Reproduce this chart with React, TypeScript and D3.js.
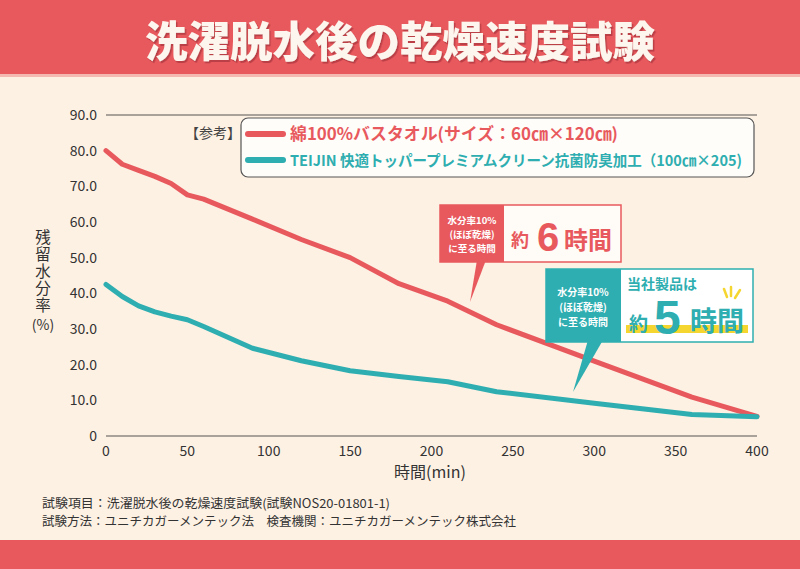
import React from "react";
import * as d3 from "d3";

const times = [0, 10, 20, 30, 40, 50, 60, 90, 120, 150, 180, 210, 240, 300, 360, 400];
const cottonValues = [80.0, 76.2, 74.5, 72.8, 70.8, 67.6, 66.4, 60.8, 55.1, 50.0, 42.7, 37.8, 31.2, 21.0, 10.9, 5.5];
const teijinValues = [42.5, 39.1, 36.5, 34.8, 33.6, 32.6, 30.7, 24.6, 21.1, 18.3, 16.7, 15.2, 12.4, 9.2, 6.0, 5.4];
const yTicks = [0, 10, 20, 30, 40, 50, 60, 70, 80, 90];
const xTicks = [0, 50, 100, 150, 200, 250, 300, 350, 400];
const seriesNames = [
  "綿100%バスタオル(サイズ：60㎝×120㎝)",
  "TEIJIN 快適トッパープレミアムクリーン抗菌防臭加工（100㎝×205)",
];

const RED = "#e8595e";
const TEAL = "#2eaeb0";
const BG = "#fdf1e3";
const FONT = "'Noto Sans CJK JP', 'Noto Sans', sans-serif";
const DIGIT_FONT = "'Liberation Sans', Arial, sans-serif";

export default function App() {
  const x = d3.scaleLinear().domain([0, 400]).range([106, 757]);
  const y = d3.scaleLinear().domain([0, 90]).range([436, 115]);
  const line = d3
    .line<[number, number]>()
    .x((d) => x(d[0]))
    .y((d) => y(d[1]))
    .curve(d3.curveLinear);
  const cotton = times.map((t, i) => [t, cottonValues[i]] as [number, number]);
  const teijin = times.map((t, i) => [t, teijinValues[i]] as [number, number]);

  return (
    <svg
      width={800}
      height={569}
      viewBox="0 0 800 569"
      style={{ position: "fixed", left: 0, top: 0, display: "block" }}
      fontFamily={FONT}
    >
      <defs>
        <filter id="tshadow" x="-10%" y="-10%" width="120%" height="130%">
          <feDropShadow dx="1.5" dy="2" stdDeviation="0.6" floodColor="#a8343a" floodOpacity="0.7" />
        </filter>
      </defs>
      <rect x={0} y={0} width={800} height={569} fill={BG} />
      {/* top banner */}
      <rect x={0} y={0} width={800} height={75} fill={RED} />
      <rect x={0} y={74} width={800} height={3} fill="#f4b9b0" />
      <text
        x={400}
        y={57}
        textAnchor="middle"
        fontSize={42.5}
        fontWeight={900}
        fill="#fdf6ee"
        filter="url(#tshadow)"
      >
        洗濯脱水後の乾燥速度試験
      </text>
      {/* bottom band */}
      <rect x={0} y={540} width={800} height={29} fill={RED} />

      {/* axes lines */}
      <line x1={x(0)} x2={x(400)} y1={y(90)} y2={y(90)} stroke="#555" strokeWidth={1.2} />
      <line x1={x(0)} x2={x(400)} y1={y(0)} y2={y(0)} stroke="#555" strokeWidth={1.2} />

      {yTicks.map((t) => (
        <text
          key={"y" + t}
          x={97}
          y={y(t)}
          dy="0.35em"
          textAnchor="end"
          fontSize={14}
          fill="#333"
        >
          {t === 0 ? "0" : t.toFixed(1)}
        </text>
      ))}
      {xTicks.map((t) => (
        <text
          key={"x" + t}
          x={x(t)}
          y={456}
          textAnchor="middle"
          fontSize={14}
          fill="#333"
        >
          {t}
        </text>
      ))}
      <text x={430} y={478} textAnchor="middle" fontSize={16} fill="#333">
        時間(min)
      </text>
      <text
        x={43}
        y={229}
        fontSize={15.5}
        fill="#333"
        style={{ writingMode: "vertical-rl", textOrientation: "upright", letterSpacing: "1.5px" }}
      >
        残留水分率
      </text>
      <text x={43} y={330} textAnchor="middle" fontSize={14} fill="#333">
        (%)
      </text>

      {/* lines */}
      <path d={line(cotton) || ""} fill="none" stroke={RED} strokeWidth={5} strokeLinejoin="round" strokeLinecap="round" />
      <path d={line(teijin) || ""} fill="none" stroke={TEAL} strokeWidth={5} strokeLinejoin="round" strokeLinecap="round" />

      {/* legend */}
      <text x={185} y={138} fontSize={14} fill="#444">
        【参考】
      </text>
      <rect x={241} y={118} width={513} height={59} rx={7} fill="#fffdf9" stroke="#555" strokeWidth={1.2} />
      <line x1={248} x2={283} y1={134} y2={134} stroke={RED} strokeWidth={6} strokeLinecap="round" />
      <text x={290} y={140} fontSize={16.5} fontWeight={700} fill={RED} textLength={328} lengthAdjust="spacingAndGlyphs">
        {seriesNames[0]}
      </text>
      <line x1={248} x2={283} y1={160} y2={160} stroke={TEAL} strokeWidth={6} strokeLinecap="round" />
      <text x={290} y={165.5} fontSize={15} fontWeight={700} fill={TEAL} textLength={452} lengthAdjust="spacingAndGlyphs">
        {seriesNames[1]}
      </text>

      {/* red annotation */}
      <path d="M477,260 L486,260 L470,302 Z" fill={RED} />
      <rect x={440} y={205} width={181} height={57} fill="#fffbf6" stroke={RED} strokeWidth={1.5} />
      <rect x={440} y={205} width={64} height={57} fill={RED} />
      {["水分率10%", "(ほぼ乾燥)", "に至る時間"].map((s, i) => (
        <text key={"r" + i} x={472} y={224 + i * 14} textAnchor="middle" fontSize={9.5} fontWeight={700} fill="#fff">
          {s}
        </text>
      ))}
      <text x={511} y={247} fontSize={18} fontWeight={700} fill={RED}>
        約
      </text>
      <text x={537} y={251} fontSize={40} fontWeight={700} fill={RED} fontFamily={DIGIT_FONT}>
        6
      </text>
      <text x={564} y={249} fontSize={24} fontWeight={700} fill={RED}>
        時間
      </text>

      {/* teal annotation */}
      <path d="M588,340 L603,340 L573,392 Z" fill={TEAL} />
      <rect x={546} y={269} width={207} height={73} fill="#ffffff" stroke={TEAL} strokeWidth={1.5} />
      <rect x={546} y={269} width={75} height={73} fill={TEAL} />
      {["水分率10%", "(ほぼ乾燥)", "に至る時間"].map((s, i) => (
        <text key={"t" + i} x={583} y={296 + i * 15} textAnchor="middle" fontSize={10} fontWeight={700} fill="#fff">
          {s}
        </text>
      ))}
      <text x={627} y={289} fontSize={14} fontWeight={700} fill={TEAL}>
        当社製品は
      </text>
      <rect x={626} y={325} width={122} height={8} fill="#f5d630" />
      <g stroke="#f5d630" strokeWidth={2.5} strokeLinecap="round">
        <line x1={724} y1={289} x2={727} y2={297} />
        <line x1={731} y1={287} x2={731} y2={296} />
        <line x1={740} y1={290} x2={735} y2={298} />
      </g>
      <text x={629} y={331} fontSize={19} fontWeight={700} fill={TEAL}>
        約
      </text>
      <text x={654} y={334} fontSize={48} fontWeight={700} fill={TEAL} fontFamily={DIGIT_FONT}>
        5
      </text>
      <text x={690} y={331} fontSize={27} fontWeight={700} fill={TEAL}>
        時間
      </text>

      {/* footnotes */}
      <text x={42} y={508} fontSize={12.5} fill="#333" textLength={348} lengthAdjust="spacingAndGlyphs">
        試験項目：洗濯脱水後の乾燥速度試験(試験NOS20-01801-1)
      </text>
      <text x={42} y={526} fontSize={12.5} fill="#333" textLength={474} lengthAdjust="spacingAndGlyphs">
        試験方法：ユニチカガーメンテック法　検査機関：ユニチカガーメンテック株式会社
      </text>
    </svg>
  );
}
